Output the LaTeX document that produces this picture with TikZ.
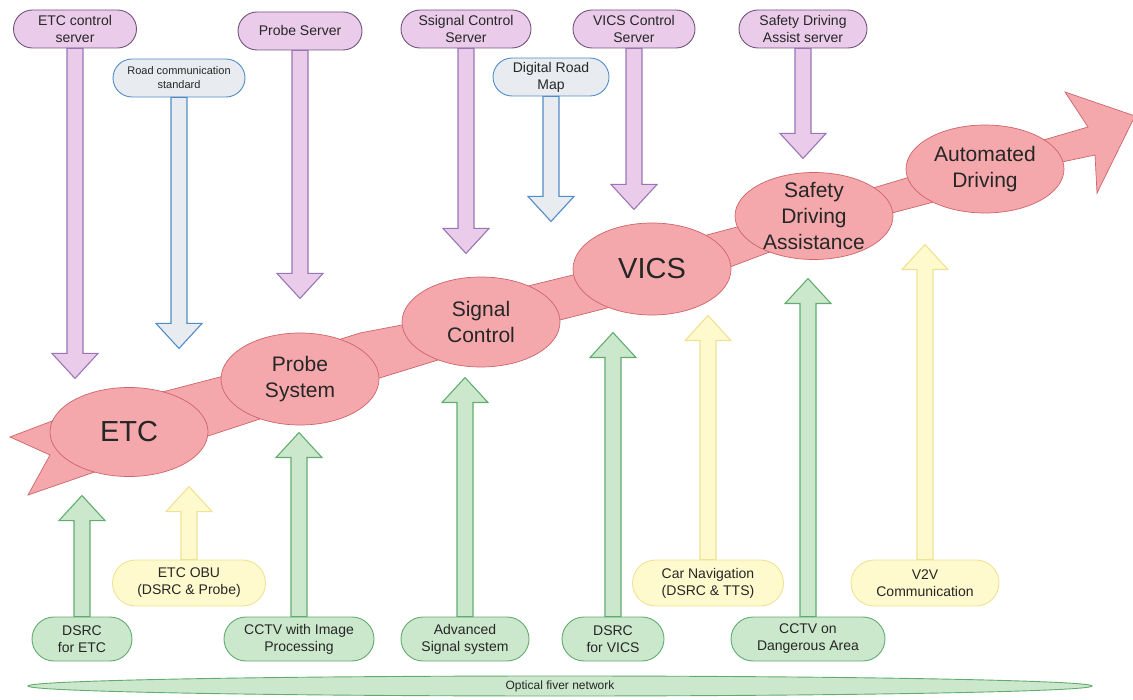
\documentclass[tikz,border=0pt]{standalone}
\usepackage{fontspec}
\setmainfont{Liberation Sans}
\usetikzlibrary{shapes.geometric,shapes.misc,calc}
\definecolor{ribfill}{RGB}{245,168,172}
\definecolor{ribline}{RGB}{205,100,105}
\definecolor{purpfill}{RGB}{234,204,234}
\definecolor{purpline}{RGB}{112,84,124}
\definecolor{purparrline}{RGB}{152,118,182}
\definecolor{bluefill}{RGB}{232,236,240}
\definecolor{blueline}{RGB}{80,140,200}
\definecolor{grnfill}{RGB}{204,232,204}
\definecolor{grnline}{RGB}{98,172,112}
\definecolor{ylwfill}{RGB}{255,249,206}
\definecolor{ylwline}{RGB}{240,226,148}

\begin{document}
\begin{tikzpicture}[x=1pt,y=-1pt,
   pill/.style={rounded rectangle,line width=0.9pt,inner sep=1pt,align=center,text=black!85,font=\fontsize{14}{17}\selectfont},
   stage/.style={ellipse,fill=ribfill,draw=ribline,line width=0.7pt,inner sep=-12pt,align=center,text=black!85,minimum width=158pt},
   purparr/.style={fill=purpfill,draw=purparrline,line width=1.1pt,line join=miter},
   bluearr/.style={fill=bluefill,draw=blueline,line width=1.1pt,line join=miter},
   grnarr/.style={fill=grnfill,draw=grnline,line width=1.1pt,line join=miter},
   ylwarr/.style={fill=ylwfill,draw=ylwline,line width=1.1pt,line join=miter}]
   \useasboundingbox (0,0) rectangle (1133,700);
   % the ribbon under the stages
   \draw[fill=ribfill,draw=ribline,line width=0.7pt] (10,437) -- (60,418) -- (170,390) -- (220,377) -- (300,352) -- (360,333) -- (402,325) -- (481,300) -- (532,285) -- (573,275) -- (652,248) -- (707,235) -- (737,227) -- (814,200) -- (873,188) -- (910,177) -- (985,155) -- (1047,139) -- (1088,127) -- (1065,92) -- (1135,116) -- (1097,193) -- (1095,155) -- (1062,162) -- (985,185) -- (930,203) -- (892,213) -- (814,235) -- (767,253) -- (730,267) -- (652,290) -- (607,308) -- (560,320) -- (481,345) -- (438,360) -- (373,380) -- (300,405) -- (263,418) -- (205,437) -- (129,460) -- (60,484) -- (28,495) -- (50,455) -- cycle;
   \foreach \pos/\name/\disp/\fs/\eh in {{(129,432)/etc/ETC/29/89}, {(300,379)/prb/{Probe\\System}/21/92}, {(481,322)/sig/{Signal\\Control}/21/90}, {(652,269)/vics/VICS/29/92}, {(814,216)/sda/{Safety\\Driving\\Assistance}/21/87}, {(985,169)/auto/{Automated\\Driving}/21/88}}
   \node[stage,minimum height=\eh pt,font=\fontsize{\fs}{26}\selectfont] (\name) at \pos {\disp};
   % servers and maps on top
   \foreach \pos/\name/\disp/\bw/\sty in {{(75,29)/etcsrv/{ETC control\\server}/125/purp}, {(300,31)/prbsrv/{Probe Server}/126/purp}, {(466,29)/sigsrv/{Ssignal Control\\Server}/132/purp}, {(634,29)/vicssrv/{VICS Control\\Server}/124/purp}, {(803,29)/sdasrv/{Safety Driving\\Assist server}/130/purp}, {(551,77)/digmap/{Digital Road\\Map}/118/blue}}
   \node[pill,fill=\sty fill,draw=\sty line,minimum width=\bw pt,minimum height=38pt] (\name) at \pos {\disp};
   \node[pill,fill=bluefill,draw=blueline,minimum width=134pt,minimum height=38pt,font=\fontsize{11}{14}\selectfont] (roadstd) at (179,78) {Road communication\\standard};
   % devices at the bottom
   \foreach \pos/\name/\disp/\bw/\bh/\sty in {{(82,639)/dsrcetc/{DSRC\\for ETC}/102/44/grn}, {(189,583)/etcobu/{ETC OBU\\(DSRC \& Probe)}/155/46/ylw}, {(299,639)/cctvimg/{CCTV with Image\\Processing}/152/44/grn}, {(465,639)/advsig/{Advanced\\Signal system}/130/44/grn}, {(613,639)/dsrcvics/{DSRC\\for VICS}/104/44/grn}, {(708,583)/carnav/{Car Navigation\\(DSRC \& TTS)}/153/46/ylw}, {(808,639)/cctvdng/{CCTV on\\Dangerous Area}/156/44/grn}, {(925,583)/v2v/{V2V\\Communication}/150/46/ylw}}
   \node[pill,fill=\sty fill,draw=\sty line,minimum width=\bw pt,minimum height=\bh pt] (\name) at \pos {\disp};
   \node[ellipse,fill=grnfill,draw=grnline,line width=0.9pt,inner sep=0pt,minimum width=1064pt,minimum height=20pt,font=\fontsize{12}{14}\selectfont,text=black!85] (fiber) at (560,686) {Optical fiver network};
   % block arrows down from the servers
   \foreach \src/\len/\sty in {etcsrv/330/purparr, roadstd/251/bluearr, prbsrv/248/purparr, sigsrv/205/purparr, digmap/125/bluearr, vicssrv/161/purparr, sdasrv/110/purparr}
   \draw[\sty] ($(\src.south)+(-8,0)$) -- ++(0,\len-25) -- ++(-15,0) -- ++(23,25) -- ++(23,-25) -- ++(-15,0) -- ++(0,-\len+25) -- cycle;
   % block arrows up from the devices
   \foreach \src/\len/\sty in {dsrcetc/121/grnarr, etcobu/73/ylwarr, cctvimg/184/grnarr, advsig/239/grnarr, dsrcvics/284/grnarr, carnav/244/ylwarr, cctvdng/338/grnarr, v2v/315/ylwarr}
   \draw[\sty] ($(\src.north)+(-8,0)$) -- ++(0,-\len+25) -- ++(-15,0) -- ++(23,-25) -- ++(23,25) -- ++(-15,0) -- ++(0,\len-25) -- cycle;
\end{tikzpicture}
\end{document}
